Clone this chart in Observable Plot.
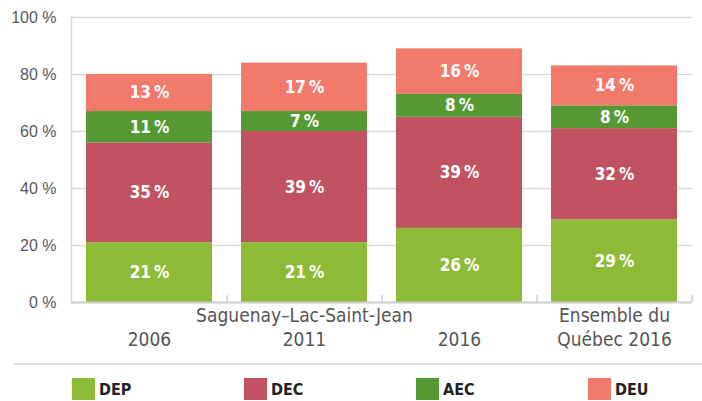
<!DOCTYPE html>
<html><head><meta charset="utf-8">
<script src="https://cdn.jsdelivr.net/npm/d3@7"></script>
<script src="https://cdn.jsdelivr.net/npm/@observablehq/plot@0.6"></script>
<style>
body{margin:0;background:#fff;}
#wrap{position:relative;width:702px;height:401px;overflow:hidden;background:#fff;}
#sep{position:absolute;left:14px;right:0;top:363px;height:2px;background:#dedede;}
.item{position:absolute;top:378px;height:22px;}
.sw{position:absolute;left:0;top:0;width:23px;height:22px;}
.lb{position:absolute;left:27px;top:0;line-height:24px;font-family:"DejaVu Sans Condensed","DejaVu Sans";font-stretch:condensed;font-weight:bold;font-size:16px;color:#222;white-space:nowrap;}
</style></head><body>
<div id="wrap"><div id="chart"></div><div id="sep"></div><div id="legend"></div></div>
<script>
const categories = ["2006", "2011", "2016", "Québec 2016"];
const series = ["DEP", "DEC", "AEC", "DEU"];
const dep = [21, 21, 26, 29];
const dec = [35, 39, 39, 32];
const aec = [11, 7, 8, 8];
const deu = [13, 17, 16, 14];
const tickLine1 = ["", "Saguenay–Lac-Saint-Jean", "", "Ensemble du"];
const tickLine2 = ["2006", "2011", "2016", "Québec 2016"];
const yTicks = [0, 20, 40, 60, 80, 100];
const colors = ["#8dbb37", "#c05262", "#559834", "#f27a6b"];

const valuesBySeries = [dep, dec, aec, deu];
const data = [];
series.forEach((s, si) => categories.forEach((c, ci) => data.push({cat: c, series: s, value: valuesBySeries[si][ci]})));

const cond = "DejaVu Sans Condensed";
const plot = Plot.plot({
  width: 702, height: 355,
  marginLeft: 71, marginRight: 10, marginTop: 17, marginBottom: 53,
  style: {background: "#fff", fontFamily: cond},
  x: {domain: categories, paddingInner: 0.19, paddingOuter: 0.095, axis: null},
  y: {domain: [0, 100], axis: null},
  color: {domain: series, range: colors},
  marks: [
    Plot.gridY(yTicks, {stroke: "#d9d9d9", strokeOpacity: 1, strokeWidth: 1.5}),
    Plot.frame({anchor: "left", stroke: "#d9d9d9", strokeWidth: 1.5}),
    Plot.barY(data, {x: "cat", y: "value", fill: "series", z: "series"}),
    Plot.ruleY([0], {stroke: "#cfcfcf", strokeWidth: 2}),
    Plot.ruleX(categories, {x: d => d, y1: 0, y2: 2.5, dx: 77.6, stroke: "#cfcfcf", strokeWidth: 1.5}),
    Plot.text(data, Plot.stackY({x: "cat", y: "value", z: "series", text: d => d.value + "\u202f%", fill: "white", fontWeight: "bold", fontSize: 17, fontFamily: cond})),
    Plot.axisY(yTicks, {tickSize: 0, tickPadding: 15, tickFormat: d => d + " %", fontSize: 16, fontFamily: "Liberation Sans", color: "#595959", label: null}),
    Plot.text(categories, {x: d => d, y: 0, text: (d, i) => tickLine1[i], lineAnchor: "top", dy: 6, fontSize: 19, fontFamily: cond, fill: "#555"}),
    Plot.text(categories, {x: d => d, y: 0, text: (d, i) => tickLine2[i], lineAnchor: "top", dy: 30, fontSize: 19, fontFamily: cond, fill: "#555"})
  ]
});
document.getElementById("chart").appendChild(plot);

const legend = document.getElementById("legend");
series.forEach((s, i) => {
  const it = document.createElement("div");
  it.className = "item";
  it.style.left = (72 + i * 172) + "px";
  it.innerHTML = `<div class="sw" style="background:${colors[i]}"></div><div class="lb">${s}</div>`;
  legend.appendChild(it);
});
</script>
</body></html>
